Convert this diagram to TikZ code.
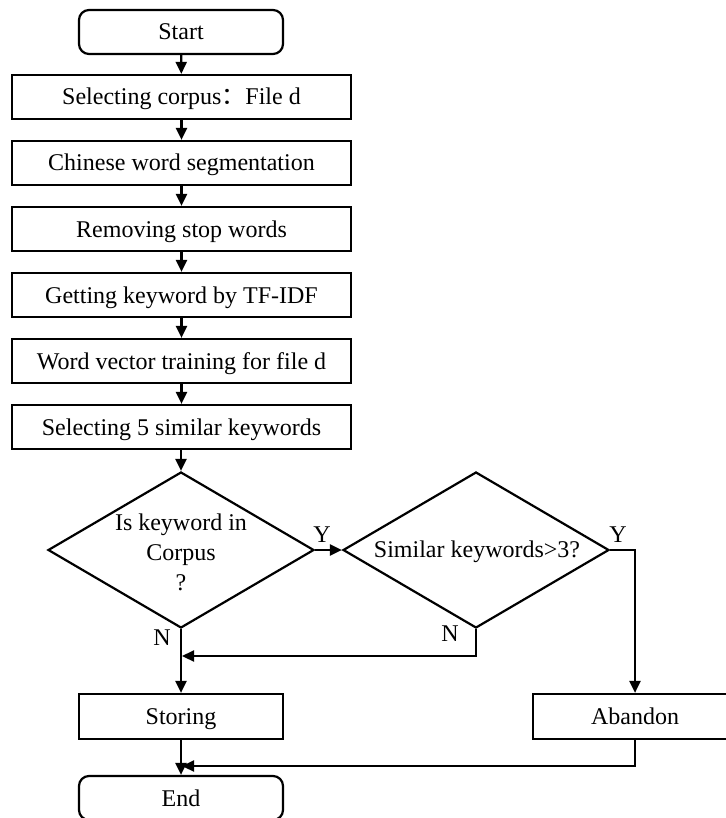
\documentclass[tikz,border=0pt]{standalone}
\usepackage{fontspec}
\setmainfont{Liberation Serif}
\newfontfamily\cjk{Noto Sans CJK SC}
\usetikzlibrary{shapes.geometric,arrows.meta}
\begin{document}
\begin{tikzpicture}[x=1pt,y=-1pt,
 every node/.style={font=\fontsize{24}{30}\selectfont},
 box/.style={draw, line width=2.2pt, rectangle, minimum width=339pt, minimum height=44pt, inner sep=0pt, text height=20pt, text depth=4pt},
 term/.style={draw, line width=2.2pt, rounded corners=10pt, minimum width=204pt, minimum height=44pt, inner sep=0pt, text height=20pt, text depth=4pt},
 small/.style={draw, line width=2.2pt, minimum width=204pt, minimum height=45pt, inner sep=0pt, text height=20pt, text depth=4pt},
 dec/.style={draw, line width=2.2pt, diamond, minimum width=266pt, minimum height=156pt, inner sep=0pt},
 arr/.style={line width=2.2pt, -{Triangle[length=12pt,width=11pt]}},
 lab/.style={inner sep=0pt}]
\useasboundingbox (0,0) rectangle (725,818);
\node[term] (start) at (181,32) {Start};
\node[box] (b1) at (181.5,97) {Selecting corpus{\cjk ：}File d};
\node[box] (b2) at (181.5,163) {Chinese word segmentation};
\node[box] (b3) at (181.5,229) {Removing stop words};
\node[box] (b4) at (181.5,295) {Getting keyword by TF-IDF};
\node[box] (b5) at (181.5,361) {Word vector training for file d};
\node[box] (b6) at (181.5,427) {Selecting 5 similar keywords};
\node[dec] (d1) at (181,550) {};
\node[align=center, inner sep=0pt] (t1) at (181,552) {Is keyword in\\Corpus\\?};
\node[dec] (d2) at (476,550) {};
\node[inner sep=0pt] (t2) at (477,552) {Similar keywords>3?};
\node[small] (st) at (181,716.5) {Storing};
\node[small] (ab) at (635,716.5) {Abandon};
\node[term] (en) at (181,798) {End};
\coordinate (m1) at (182,656);
\coordinate (m2) at (182,766);
\draw[arr] (start) -- (b1);
\draw[arr] (b1) -- (b2);
\draw[arr] (b2) -- (b3);
\draw[arr] (b3) -- (b4);
\draw[arr] (b4) -- (b5);
\draw[arr] (b5) -- (b6);
\draw[arr] (b6.south -| d1.north) -- (d1.north);
\draw[arr] (d1.east) -- (d2.west);
\draw[arr] (d2.east) -| (ab.north);
\draw[arr] (d2.south) |- (m1);
\draw[arr] (d1.south) -- (st.north);
\draw[arr] (st.south) -- (en.north);
\draw[arr] (ab.south) |- (m2);
\node[lab] (y1) at (322,535) {Y};
\node[lab] (y2) at (618,535) {Y};
\node[lab] (n1) at (162,638) {N};
\node[lab] (n2) at (450,634) {N};
\end{tikzpicture}
\end{document}
